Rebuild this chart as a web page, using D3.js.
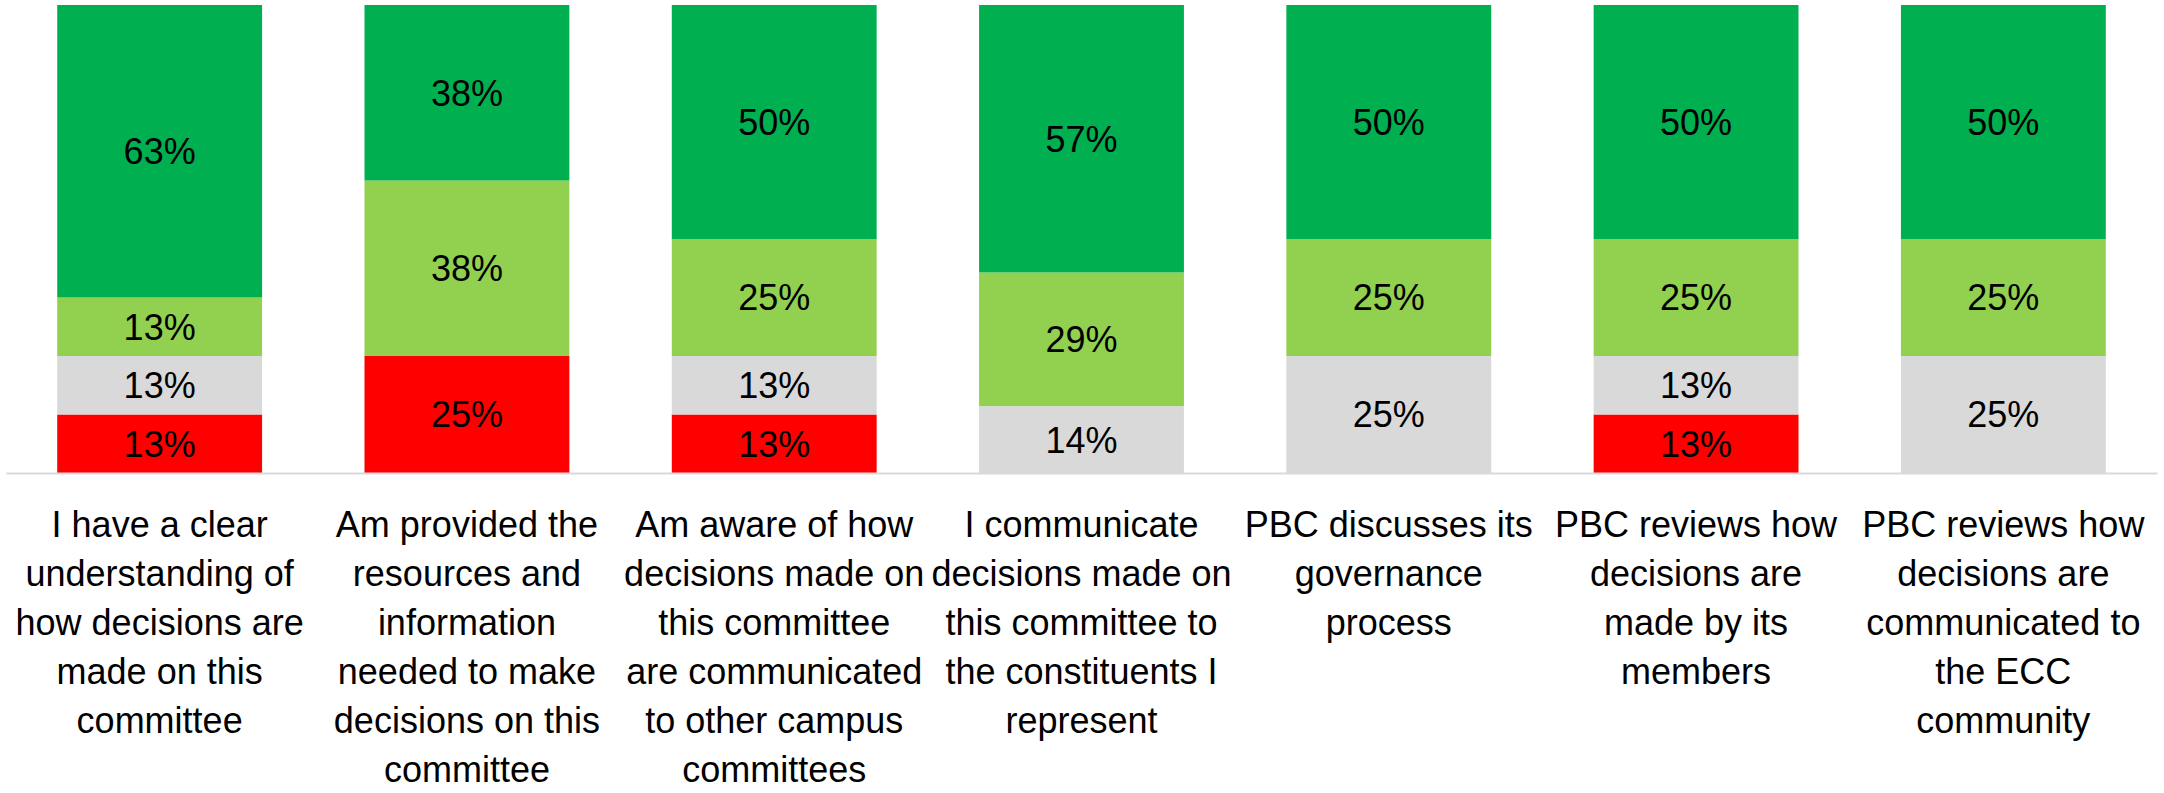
<!DOCTYPE html>
<html>
<head>
<meta charset="utf-8">
<script src="https://cdn.jsdelivr.net/npm/d3@7"></script>
<style>
  body { margin: 0; background: #fff; }
  svg text { font-family: "Liberation Sans", Arial, sans-serif; fill: #000; }
</style>
</head>
<body>
<div id="chart"></div>
<script>
// categories, split into the lines used under each bar
var categories = [
    ["I have a clear", "understanding of", "how decisions are", "made on this", "committee"],
    ["Am provided the", "resources and", "information", "needed to make", "decisions on this", "committee"],
    ["Am aware of how", "decisions made on", "this committee", "are communicated", "to other campus", "committees"],
    ["I communicate", "decisions made on", "this committee to", "the constituents I", "represent"],
    ["PBC discusses its", "governance", "process"],
    ["PBC reviews how", "decisions are", "made by its", "members"],
    ["PBC reviews how", "decisions are", "communicated to", "the ECC", "community"]
];

// series, bottom to top (percent of responses)
var seriesNames = ["Disagree", "Neutral", "Agree", "Strongly agree"];
var disagree      = [12.5, 25,   12.5, 0,     0,  12.5, 0];
var neutral       = [12.5, 0,    12.5, 14.29, 25, 12.5, 25];
var agree         = [12.5, 37.5, 25,   28.57, 25, 25,   25];
var stronglyAgree = [62.5, 37.5, 50,   57.14, 50, 50,   50];
var seriesColors  = ["#ff0000", "#d9d9d9", "#92d050", "#00b050"];

var width = 2164, height = 793;

var svg = d3.select("#chart")
    .append("svg")
    .attr("width", width)
    .attr("height", height);

// build table rows for d3.stack
var rows = categories.map(function(c, i){
    return {
        idx: i,
        "Disagree": disagree[i],
        "Neutral": neutral[i],
        "Agree": agree[i],
        "Strongly agree": stronglyAgree[i]
    };
});

var stacked = d3.stack().keys(seriesNames)(rows);

var x = d3.scaleBand()
    .domain(d3.range(categories.length))
    .range([6, 2157])
    .paddingInner(1/3)
    .paddingOuter(1/6);

var y = d3.scaleLinear()
    .domain([0, 100])
    .range([473, 5]);

var color = d3.scaleOrdinal().domain(seriesNames).range(seriesColors);

var layer = svg.selectAll(".layer")
    .data(stacked)
    .enter()
    .append("g")
    .attr("class", "layer")
    .attr("fill", function(d){ return color(d.key); });

layer.selectAll("rect")
    .data(function(d){ return d; })
    .enter()
    .append("rect")
    .attr("x", function(d){ return x(d.data.idx); })
    .attr("width", x.bandwidth())
    .attr("y", function(d){ return y(d[1]); })
    .attr("height", function(d){ return y(d[0]) - y(d[1]); });

// value labels in each segment
layer.selectAll("text")
    .data(function(d){ return d.filter(function(s){ return s[1] - s[0] > 0; }); })
    .enter()
    .append("text")
    .attr("x", function(d){ return x(d.data.idx) + x.bandwidth() / 2; })
    .attr("y", function(d){ return (y(d[0]) + y(d[1])) / 2; })
    .attr("dy", "0.36em")
    .attr("text-anchor", "middle")
    .attr("font-size", 36)
    .text(function(d){ return Math.round(d[1] - d[0]) + "%"; });

// category axis
var xAxis = d3.axisBottom(x).tickSize(0).tickFormat("");
var axisG = svg.append("g")
    .attr("transform", "translate(0,473)")
    .call(xAxis);
axisG.select(".domain").attr("stroke", "#d9d9d9").attr("stroke-width", 2);

// multi-line category labels
var labels = svg.selectAll(".cat-label")
    .data(categories)
    .enter()
    .append("text")
    .attr("class", "cat-label")
    .attr("text-anchor", "middle")
    .attr("font-size", 36);

labels.selectAll("tspan")
    .data(function(d, i){ return d.map(function(line){ return {line: line, i: i}; }); })
    .enter()
    .append("tspan")
    .attr("x", function(d){ return x(d.i) + x.bandwidth() / 2; })
    .attr("y", function(d, j){ return 537 + j * 49; })
    .text(function(d){ return d.line; });
</script>
</body>
</html>
